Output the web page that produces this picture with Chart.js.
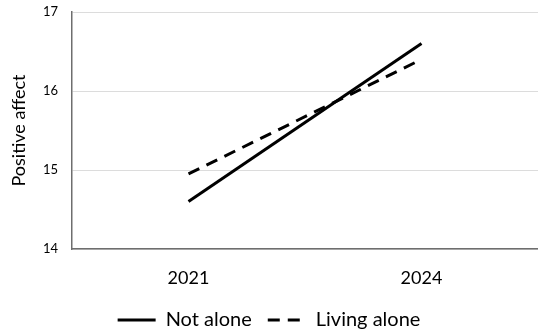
<!DOCTYPE html>
<html>
<head>
<meta charset="utf-8">
<script src="https://cdn.jsdelivr.net/npm/chart.js@4"></script>
<style>
  html, body { margin: 0; padding: 0; background: #fff; }
  #wrap { width: 538px; height: 329px; }
</style>
</head>
<body>
<div id="wrap"><canvas id="chart"></canvas></div>
<script>
// Data
const years = ['2021', '2024'];
const notAlone = [14.6, 16.6];
const livingAlone = [14.95, 16.4];
const yTicks = [14, 15, 16, 17];

const fontFamily = 'Lato, "Open Sans", sans-serif';

const ctx = document.getElementById('chart').getContext('2d');

new Chart(ctx, {
  type: 'line',
  data: {
    labels: years,
    datasets: [
      {
        label: 'Not alone',
        data: notAlone,
        borderColor: '#000',
        backgroundColor: '#000',
        borderWidth: 3,
        pointRadius: 0,
        pointStyle: 'line',
        fill: false
      },
      {
        label: 'Living alone',
        data: livingAlone,
        borderColor: '#000',
        backgroundColor: '#000',
        borderWidth: 3,
        borderDash: [12, 8],
        pointRadius: 0,
        pointStyle: 'line',
        fill: false
      }
    ]
  },
  options: {
    responsive: true,
    maintainAspectRatio: false,
    animation: false,
    layout: { padding: { top: 0, right: 0, left: 0, bottom: -11 } },
    plugins: {
      tooltip: { enabled: false },
      legend: {
        position: 'bottom',
        labels: {
          usePointStyle: true,
          pointStyleWidth: 38,
          boxHeight: 10,
          color: '#000',
          padding: 16,
          font: { family: fontFamily, size: 20 },
          // point-style items lose the dataset dash, so put it back
          generateLabels: chart => {
            const items = Chart.defaults.plugins.legend.labels.generateLabels(chart);
            items.forEach(item => {
              const ds = chart.data.datasets[item.datasetIndex];
              item.lineDash = ds.borderDash || [];
              item.lineWidth = 3;
              item.strokeStyle = '#000';
            });
            return items;
          }
        }
      }
    },
    scales: {
      x: {
        offset: true,
        grid: { display: false, drawTicks: false },
        border: { display: true, color: '#6e6e6e', width: 1.5 },
        ticks: {
          color: '#000',
          padding: 18,
          font: { family: fontFamily, size: 18 }
        },
        afterFit: scale => { scale.height = 45; }
      },
      y: {
        min: 14,
        max: 17,
        afterBuildTicks: scale => { scale.ticks = yTicks.map(v => ({ value: v })); },
        grid: { color: '#dcdcdc', lineWidth: 1, drawTicks: false },
        border: { display: true, color: '#6e6e6e', width: 1.5 },
        ticks: {
          color: '#000',
          padding: 14,
          font: { family: fontFamily, size: 13 }
        },
        title: {
          display: true,
          text: 'Positive affect',
          color: '#000',
          padding: { top: 8, bottom: 0 },
          font: { family: fontFamily, size: 18 }
        },
        afterFit: scale => {
          scale.width = 72;
          // tick padding also pads top/bottom; keep only room for the label
          scale.paddingTop = 12;
          scale.paddingBottom = 0;
        }
      }
    }
  }
});
</script>
</body>
</html>
